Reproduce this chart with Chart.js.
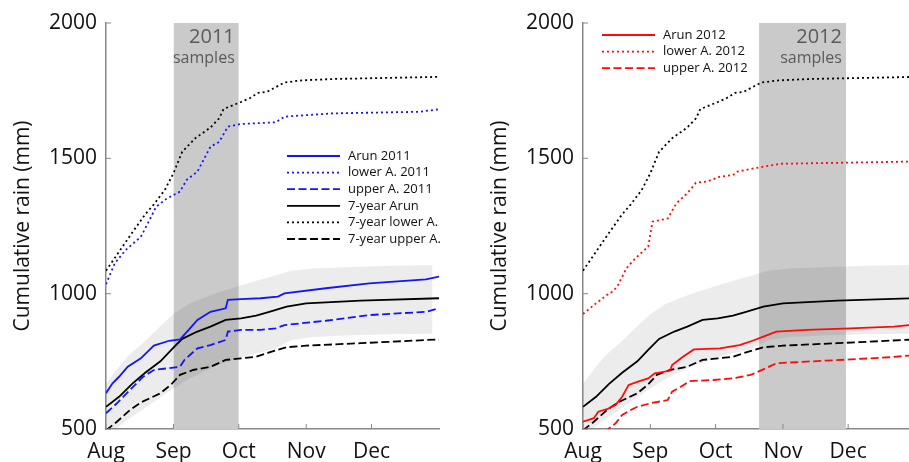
<!DOCTYPE html>
<html>
<head>
<meta charset="utf-8">
<script src="https://cdn.jsdelivr.net/npm/chart.js@4.4.1/dist/chart.umd.min.js"></script>
<style>
  html, body { margin: 0; padding: 0; background: #fff; overflow: hidden; }
  #wrap { position: relative; width: 909px; height: 462px; }
  canvas { position: absolute; top: 0; }
  #left { left: 0; }
  #right { left: 477px; }
</style>
</head>
<body>
<div id="wrap">
  <canvas id="left" width="477" height="462"></canvas>
  <canvas id="right" width="432" height="462"></canvas>
</div>
<script>
// x values are days after 1 Aug, y values cumulative rain in mm
const monthStarts = [0, 31, 61, 92, 122]
const monthLabels = ['Aug', 'Sep', 'Oct', 'Nov', 'Dec']
const rainTicks = [500, 1000, 1500, 2000]

const samples2011 = [31, 61]
const samples2012 = [81, 121]

// 7-year spread (shaded)
const spreadDays = [0, 5, 10, 17, 24, 31, 38, 45, 52, 61, 70, 77, 85, 95, 110, 130, 150]
const spreadHigh = [668, 720, 770, 818, 872, 925, 962, 985, 1005, 1028, 1050, 1065, 1085, 1093, 1098, 1103, 1106]
const spreadLow = [475, 505, 535, 572, 612, 650, 685, 712, 738, 762, 782, 795, 828, 840, 845, 850, 852]

const arun7yr = [[0, 582], [6, 619], [12, 667], [18, 708], [25, 750], [30, 792], [35, 833], [42, 860], [48, 878], [55, 903], [62, 909], [69, 919], [75, 933], [83, 952], [92, 964], [117, 974], [153, 983]]
const lower7yr = [[0, 1085], [6, 1155], [12, 1225], [18, 1293], [22, 1330], [27, 1383], [31, 1445], [35, 1524], [41, 1574], [48, 1614], [52, 1648], [54, 1682], [62, 1708], [66, 1722], [70, 1742], [74, 1746], [82, 1780], [90, 1788], [104, 1793], [153, 1801]]
const upper7yr = [[0, 495], [5, 527], [11, 570], [16, 598], [25, 632], [30, 665], [34, 700], [40, 718], [48, 730], [55, 755], [62, 761], [69, 767], [75, 783], [83, 802], [92, 808], [117, 817], [153, 831]]

const arun2011 = [[0, 632], [3, 669], [6, 693], [10, 730], [16, 761], [22, 808], [29, 826], [34, 831], [38, 866], [42, 903], [48, 933], [55, 946], [56, 977], [62, 980], [71, 983], [79, 989], [82, 1001], [101, 1020], [121, 1038], [147, 1053], [153, 1063]]
const lower2011 = [[0, 1035], [4, 1112], [9, 1161], [16, 1210], [20, 1272], [23, 1321], [28, 1352], [34, 1377], [37, 1420], [42, 1451], [48, 1543], [52, 1561], [56, 1617], [62, 1627], [78, 1633], [82, 1654], [104, 1666], [144, 1672], [153, 1681]]
const upper2011 = [[0, 558], [5, 595], [11, 644], [17, 693], [22, 718], [28, 724], [34, 730], [36, 755], [42, 798], [48, 810], [55, 829], [56, 860], [62, 866], [71, 866], [78, 872], [82, 884], [101, 900], [121, 921], [147, 933], [153, 946]]

const arun2012 = [[0, 527], [5, 540], [7, 564], [11, 573], [15, 589], [18, 619], [21, 663], [26, 677], [30, 687], [33, 706], [40, 715], [41, 736], [46, 767], [51, 794], [63, 798], [72, 810], [78, 826], [83, 841], [89, 860], [103, 866], [123, 872], [143, 878], [150, 884]]
const lower2012 = [[0, 925], [6, 964], [11, 995], [14, 1010], [16, 1030], [20, 1094], [24, 1130], [30, 1174], [32, 1266], [39, 1278], [43, 1334], [48, 1371], [52, 1410], [57, 1414], [63, 1432], [69, 1438], [71, 1451], [80, 1465], [91, 1480], [121, 1484], [150, 1488]]
const upper2012 = [[0, 455], [8, 482], [11, 496], [15, 521], [18, 552], [22, 570], [25, 582], [31, 595], [39, 607], [41, 638], [45, 656], [49, 677], [60, 681], [69, 687], [77, 700], [78, 703], [84, 724], [89, 743], [103, 749], [123, 757], [141, 765], [150, 771]]

const FONT = '"Open Sans", "Noto Sans", sans-serif'
const BLUE = 'rgb(20,20,250)'
const RED = 'rgb(255,10,10)'
const DOT = [2, 3]
const DASH = [8, 3.5]

const toXY = (pairs) => pairs.map(([x, y]) => ({ x, y }))

function seriesLine(label, pairs, color, dash) {
  return {
    label,
    data: toXY(pairs),
    borderColor: color,
    borderWidth: 1.8,
    borderDash: dash,
    pointRadius: 0,
    fill: false,
    order: 1,
  }
}

function backgroundSets(window) {
  const top = rainTicks[rainTicks.length - 1]
  return [
    {
      data: [{ x: window[0], y: top }, { x: window[1], y: top }],
      borderWidth: 0,
      pointRadius: 0,
      backgroundColor: '#cacaca',
      fill: 'start',
      order: 10,
    },
    {
      data: spreadDays.map((d, i) => ({ x: d, y: spreadLow[i] })),
      borderWidth: 0,
      pointRadius: 0,
      fill: false,
      order: 9,
    },
    {
      data: spreadDays.map((d, i) => ({ x: d, y: spreadHigh[i] })),
      borderWidth: 0,
      pointRadius: 0,
      backgroundColor: 'rgba(0,0,0,0.075)',
      fill: '-1',
      order: 8,
    },
  ]
}

/* PLUGINS */

const innerTicks = {
  id: 'innerTicks',
  afterDraw(chart) {
    const { ctx, scales: { x, y } } = chart
    ctx.save()
    ctx.strokeStyle = '#888'
    ctx.lineWidth = 1
    x.ticks.forEach((t) => {
      const px = x.getPixelForValue(t.value)
      ctx.beginPath(); ctx.moveTo(px, y.bottom); ctx.lineTo(px, y.bottom - 5); ctx.stroke()
    })
    y.ticks.forEach((t) => {
      const py = y.getPixelForValue(t.value)
      ctx.beginPath(); ctx.moveTo(x.left, py); ctx.lineTo(x.left + 5, py); ctx.stroke()
    })
    ctx.restore()
  },
}

const bandLabel = {
  id: 'bandLabel',
  afterDatasetsDraw(chart, args, opts) {
    const { ctx, chartArea, scales: { x } } = chart
    const right = x.getPixelForValue(opts.end) - 4
    ctx.save()
    ctx.fillStyle = '#5a5a5a'
    ctx.textAlign = 'right'
    ctx.textBaseline = 'alphabetic'
    ctx.font = '20px ' + FONT
    ctx.fillText(opts.year, right, chartArea.top + 20)
    ctx.font = '16px ' + FONT
    ctx.fillText('samples', right, chartArea.top + 40)
    ctx.restore()
  },
}

const lineKey = {
  id: 'lineKey',
  afterDatasetsDraw(chart, args, opts) {
    const { ctx } = chart
    ctx.save()
    ctx.font = '13px ' + FONT
    ctx.textBaseline = 'middle'
    ctx.textAlign = 'left'
    chart.data.datasets.filter((ds) => ds.label).forEach((ds, i) => {
      const y = opts.y + i * opts.row
      ctx.strokeStyle = ds.borderColor
      ctx.lineWidth = ds.borderWidth
      ctx.setLineDash(ds.borderDash || [])
      ctx.beginPath()
      ctx.moveTo(opts.x, y)
      ctx.lineTo(opts.x + 53, y)
      ctx.stroke()
      ctx.fillStyle = '#111'
      ctx.fillText(ds.label, opts.x + 61, y)
    })
    ctx.restore()
  },
}

function makeChart(id, datasets, xMax, rightPad, band, key) {
  return new Chart(document.getElementById(id), {
    type: 'line',
    data: { datasets },
    options: {
      responsive: false,
      animation: false,
      layout: { padding: { top: 23, right: rightPad, left: 0, bottom: 0 } },
      elements: { line: { tension: 0 } },
      plugins: {
        legend: { display: false },
        tooltip: { enabled: false },
        bandLabel: band,
        lineKey: key,
      },
      scales: {
        x: {
          type: 'linear',
          min: 0,
          max: xMax,
          afterBuildTicks: (s) => { s.ticks = monthStarts.map((v) => ({ value: v })) },
          afterFit: (s) => { s.height = 33 },
          grid: { display: false, drawTicks: false },
          border: { color: '#888', width: 1.5 },
          ticks: {
            padding: 10,
            color: '#111',
            font: { family: FONT, size: 21 },
            maxRotation: 0,
            callback: (v) => monthLabels[monthStarts.indexOf(v)],
          },
        },
        y: {
          min: rainTicks[0],
          max: rainTicks[rainTicks.length - 1],
          afterBuildTicks: (s) => { s.ticks = rainTicks.map((v) => ({ value: v })) },
          afterFit: (s) => { s.width = 106 },
          grid: { display: false, drawTicks: false },
          border: { color: '#888', width: 1.5 },
          ticks: {
            padding: 9,
            color: '#111',
            font: { family: FONT, size: 21 },
            callback: (v) => String(v),
          },
          title: {
            display: true,
            text: 'Cumulative rain (mm)',
            color: '#111',
            font: { family: FONT, size: 21 },
            padding: { top: 10, bottom: 0 },
          },
        },
      },
    },
    plugins: [innerTicks, bandLabel, lineKey],
  })
}

makeChart('left', [
  seriesLine('Arun 2011', arun2011, BLUE, []),
  seriesLine('lower A. 2011', lower2011, BLUE, DOT),
  seriesLine('upper A. 2011', upper2011, BLUE, DASH),
  seriesLine('7-year Arun', arun7yr, '#000', []),
  seriesLine('7-year lower A.', lower7yr, '#000', DOT),
  seriesLine('7-year upper A.', upper7yr, '#000', DASH),
  ...backgroundSets(samples2011),
], 153, 38, { year: '2011', end: samples2011[1] }, { x: 287, y: 156, row: 16.6 })

makeChart('right', [
  seriesLine('Arun 2012', arun2012, RED, []),
  seriesLine('lower A. 2012', lower2012, RED, DOT),
  seriesLine('upper A. 2012', upper2012, RED, DASH),
  seriesLine('', arun7yr, '#000', []),
  seriesLine('', lower7yr, '#000', DOT),
  seriesLine('', upper7yr, '#000', DASH),
  ...backgroundSets(samples2012),
], 150, 0, { year: '2012', end: samples2012[1] }, { x: 125, y: 35, row: 16.6 })
</script>
</body>
</html>
